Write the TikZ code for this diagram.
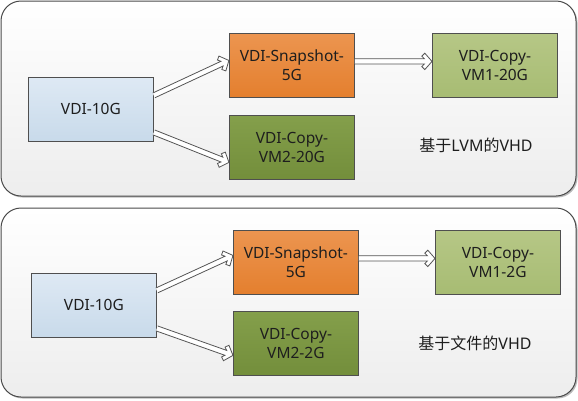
\documentclass[tikz,border=0pt]{standalone}
\usepackage{fontspec}
\setmainfont{Noto Sans}
\newfontfamily\cjk{Noto Sans CJK SC}
\usetikzlibrary{calc,shadows}
\definecolor{panelline}{HTML}{4A4A4A}
\definecolor{boxline}{HTML}{4F4F4F}
\definecolor{arrowline}{HTML}{555555}
\definecolor{blueT}{HTML}{DEE9F4}
\definecolor{blueB}{HTML}{C8DAEA}
\definecolor{orangeT}{HTML}{EC9550}
\definecolor{orangeB}{HTML}{E47F2E}
\definecolor{dgreenT}{HTML}{849F4B}
\definecolor{dgreenB}{HTML}{738E3B}
\definecolor{lgreenT}{HTML}{B6C786}
\definecolor{lgreenB}{HTML}{A7BC73}
\definecolor{txt}{HTML}{1E1E1E}
% hollow chevron arrow from #1 to #2
\newcommand\hollowarr[2]{%
  \fill[white] let \p1=(#1), \p2=(#2), \n1={atan2(\y2-\y1,\x2-\x1)},
      \n2={veclen(\x2-\x1,\y2-\y1)} in [shift={(\p1)}, rotate=\n1]
    (0,2.6) -- ({\n2-7.6},2.6) -- ({\n2-10.2},5.2) -- ({\n2-7.2},8.2) -- (\n2,0)
    -- ({\n2-7.2},-8.2) -- ({\n2-10.2},-5.2) -- ({\n2-7.6},-2.6) -- (0,-2.6) -- cycle;
  \draw[arrowline, line width=0.8pt, line join=miter] let \p1=(#1), \p2=(#2),
      \n1={atan2(\y2-\y1,\x2-\x1)}, \n2={veclen(\x2-\x1,\y2-\y1)} in [shift={(\p1)}, rotate=\n1]
    (0,2.6) -- ({\n2-7.6},2.6) -- ({\n2-10.2},5.2) -- ({\n2-7.2},8.2) -- (\n2,0)
    -- ({\n2-7.2},-8.2) -- ({\n2-10.2},-5.2) -- ({\n2-7.6},-2.6) -- (0,-2.6);
}
\begin{document}
\begin{tikzpicture}[x=1pt,y=-1pt,
  panel/.style={draw=panelline, line width=1pt, rounded corners=20pt,
    top color=white, bottom color=black!7,
    drop shadow={shadow xshift=1.5pt, shadow yshift=-1.5pt, opacity=0.45, fill=black!60}},
  box/.style={draw=boxline, line width=0.8pt, anchor=north west,
    minimum width=125pt, minimum height=64pt, align=center, inner sep=0pt,
    font=\fontsize{15.5}{19.5}\selectfont, text=txt,
    drop shadow={shadow xshift=1pt, shadow yshift=-1pt, opacity=0.3}},
  bluebox/.style={box, top color=blueT, bottom color=blueB},
  orangebox/.style={box, top color=orangeT, bottom color=orangeB},
  dgreenbox/.style={box, top color=dgreenT, bottom color=dgreenB},
  lgreenbox/.style={box, top color=lgreenT, bottom color=lgreenB},
  note/.style={font=\fontsize{16}{19}\selectfont, text=txt}
]
\useasboundingbox (0,0) rectangle (578,400);
\fill[white] (0,0) rectangle (578,400);

% top panel
\path[panel] (1,1) rectangle (576,196);
\node[bluebox]   (a1) at (28,77)  {VDI-10G};
\node[orangebox] (s1) at (229,33) {VDI-Snapshot-\\5G};
\node[dgreenbox] (c1) at (229,115) {VDI-Copy-\\VM2-20G};
\node[lgreenbox] (v1) at (432,33) {VDI-Copy-\\VM1-20G};
\node[note] (l1) at (476,145) {{\cjk 基于}LVM{\cjk 的}VHD};
\hollowarr{$(a1.east)+(0,-14)$}{$(s1.west)+(0,-5)$}
\hollowarr{$(a1.east)+(0,23)$}{$(c1.west)+(0,15)$}
\hollowarr{$(s1.east)+(0,-4)$}{$(v1.west)+(0,-4)$}

% bottom panel
\path[panel] (1,208) rectangle (576,397);
\node[bluebox]   (a2) at (31,273)  {VDI-10G};
\node[orangebox] (s2) at (233,230) {VDI-Snapshot-\\5G};
\node[dgreenbox] (c2) at (233,311) {VDI-Copy-\\VM2-2G};
\node[lgreenbox] (v2) at (435,230) {VDI-Copy-\\VM1-2G};
\node[note] (l2) at (475,343) {{\cjk 基于文件的}VHD};
\hollowarr{$(a2.east)+(0,-15)$}{$(s2.west)+(0,-7)$}
\hollowarr{$(a2.east)+(0,23)$}{$(c2.west)+(0,12)$}
\hollowarr{$(s2.east)+(0,-4)$}{$(v2.west)+(0,-4)$}
\end{tikzpicture}
\end{document}
